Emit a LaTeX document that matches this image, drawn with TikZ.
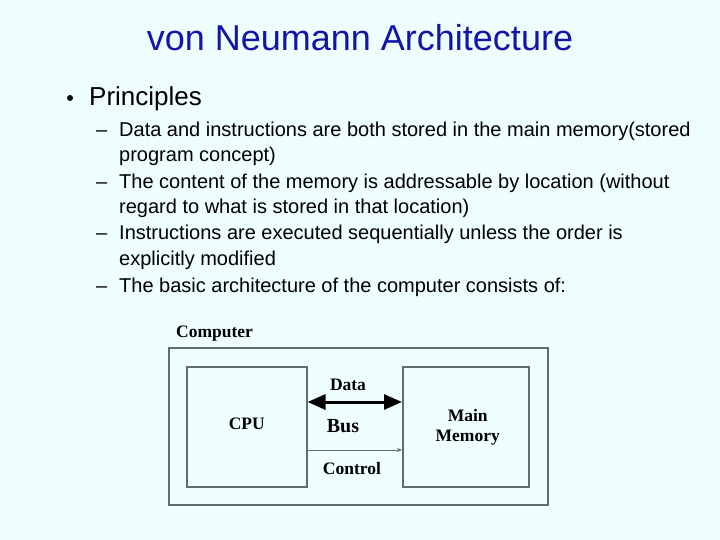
\documentclass[tikz,border=0pt]{standalone}
\usepackage{fontspec}
\setmainfont{Liberation Sans}
\newfontfamily\labelfont{Liberation Serif}
\usetikzlibrary{positioning}
\usetikzlibrary{arrows.meta}
\definecolor{slidebg}{RGB}{238,254,254}
\definecolor{titleblue}{RGB}{20,20,168}
\definecolor{boxline}{RGB}{92,112,112}
\tikzstyle{every box} = []
\tikzstyle{box} = [draw=boxline, line width=1.5pt, every box]
\tikzstyle{lbl} = [font=\labelfont\bfseries\fontsize{17.5}{20}\selectfont, inner sep=0pt]
\tikzstyle{item} = [anchor=base west, inner sep=0pt, font=\fontsize{20}{24}\selectfont]

\begin{document}
\begin{tikzpicture}[x=1pt, y=-1pt]
        \fill[slidebg] (0,0) rectangle (720,540);
        \useasboundingbox (0,0) rectangle (720,540);

        % title and bullets
        \node[titleblue, font=\fontsize{36}{40}\selectfont, inner sep=0pt] (title) at (360,38) {von Neumann Architecture};
        \node[anchor=base west, inner sep=0pt, font=\fontsize{26}{30}\selectfont] (princ) at (89,106) {Principles};
        \fill (70,98) circle (3pt);
        \foreach \y/\txt in {137/{Data and instructions are both stored in the main memory(stored},
                             162/{program concept)},
                             189/{The content of the memory is addressable by location (without},
                             214/{regard to what is stored in that location)},
                             240/{Instructions are executed sequentially unless the order is},
                             265/{explicitly modified},
                             292/{The basic architecture of the computer consists of:}}
            \node[item] at (119,\y) {\txt};
        \foreach \y in {137,189,240,292}
            \node[item] at (96,\y) {--};

        % computer block
        \node[lbl, anchor=base west] (comp) at (176,337) {Computer};
        \node[box, minimum width=379pt, minimum height=157pt, anchor=north west] (outer) at (168,347) {};
        \node[box, minimum width=120pt, minimum height=120pt, anchor=north west] (cpu) at (186,366) {};
        \node[box, minimum width=126pt, minimum height=120pt, anchor=north west] (mem) at (402,366) {};
        \node[lbl] at ([yshift=3pt]cpu.center) {CPU};
        \node[lbl, align=center, font=\labelfont\bfseries\fontsize{17.5}{20}\selectfont] at ([xshift=2pt,yshift=-1pt]mem.center) {Main\\Memory};

        % bus
        \coordinate (dl) at ([yshift=-36pt]cpu.north east);
        \coordinate (dr) at ([yshift=-36pt]mem.north west);
        \draw[line width=3pt, {Triangle[length=18pt,width=15pt]}-{Triangle[length=18pt,width=15pt]}] (dl) -- (dr);
        \coordinate (cl) at ([yshift=-84pt]cpu.north east);
        \coordinate (cr) at ([yshift=-84pt]mem.north west);
        \draw[boxline, line width=1pt, -{Stealth[length=5pt,width=4pt]}] (cl) -- (cr);
        \node[lbl] (data) at (348,385) {Data};
        \node[lbl, font=\labelfont\bfseries\fontsize{20}{24}\selectfont] (bus) at (343,426) {Bus};
        \node[lbl] (ctrl) at (352,469) {Control};
    \end{tikzpicture}
\end{document}
